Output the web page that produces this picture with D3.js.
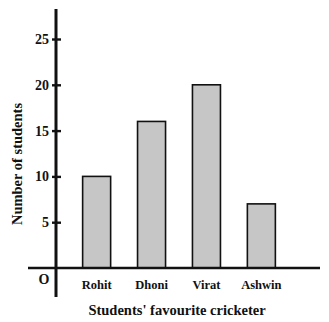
<!DOCTYPE html>
<html>
<head>
<meta charset="utf-8">
<script src="https://cdn.jsdelivr.net/npm/d3@7"></script>
<style>
  html, body { margin: 0; padding: 0; background: #fff; }
  svg { display: block; }
  text { font-family: "Liberation Serif", "DejaVu Serif", serif; font-weight: bold; fill: #111; }
</style>
</head>
<body>
<svg id="chart" width="329" height="322"></svg>
<script>
// Favourite cricketer survey
const players = ["Rohit", "Dhoni", "Virat", "Ashwin"];
const students = [10, 16, 20, 7];
const yTicks = [5, 10, 15, 20, 25];

const svg = d3.select("#chart");
const originX = 56, originY = 268;

const y = d3.scaleLinear().domain([0, 25]).range([originY, 39]);
const x = d3.scaleBand().domain(players).range([70, 288]).paddingInner(0.49).paddingOuter(0.23);

// Bars
svg.append("g").selectAll("rect")
  .data(players)
  .join("rect")
  .attr("x", d => x(d))
  .attr("y", (d, i) => y(students[i]))
  .attr("width", x.bandwidth())
  .attr("height", (d, i) => originY - y(students[i]))
  .attr("fill", "#c6c6c6")
  .attr("stroke", "#111")
  .attr("stroke-width", 1.6);

// X axis line
svg.append("line")
  .attr("x1", 28).attr("x2", 320)
  .attr("y1", originY).attr("y2", originY)
  .attr("stroke", "#111").attr("stroke-width", 2.6);

// Y axis line
svg.append("line")
  .attr("x1", originX).attr("x2", originX)
  .attr("y1", 9).attr("y2", 297)
  .attr("stroke", "#111").attr("stroke-width", 3);

// Y ticks
const yAxis = d3.axisLeft(y).tickValues(yTicks).tickSize(0).tickPadding(7);
const gy = svg.append("g").attr("transform", `translate(${originX},0)`).call(yAxis);
gy.select(".domain").remove();
gy.selectAll("text").attr("font-size", 14).attr("font-family", "Liberation Serif").attr("font-weight", "bold").attr("fill", "#111");
gy.selectAll(".tick").append("line")
  .attr("x1", -4).attr("x2", 5)
  .attr("stroke", "#111").attr("stroke-width", 2.4);

// Category labels
const xAxis = d3.axisBottom(x).tickSize(0).tickPadding(12);
const gx = svg.append("g").attr("transform", `translate(0,${originY})`).call(xAxis);
gx.select(".domain").remove();
gx.selectAll("text").attr("font-size", 12.5).attr("font-family", "Liberation Serif").attr("font-weight", "bold").attr("fill", "#111");

// Origin label
svg.append("text").attr("x", 44).attr("y", 284).attr("text-anchor", "middle")
  .attr("font-size", 14).text("O");

// Axis titles
svg.append("text").attr("x", 177).attr("y", 315).attr("text-anchor", "middle")
  .attr("font-size", 14.5).text("Students' favourite cricketer");

svg.append("text")
  .attr("transform", "translate(22,164) rotate(-90)")
  .attr("text-anchor", "middle")
  .attr("font-size", 14.5).text("Number of students");
</script>
</body>
</html>
